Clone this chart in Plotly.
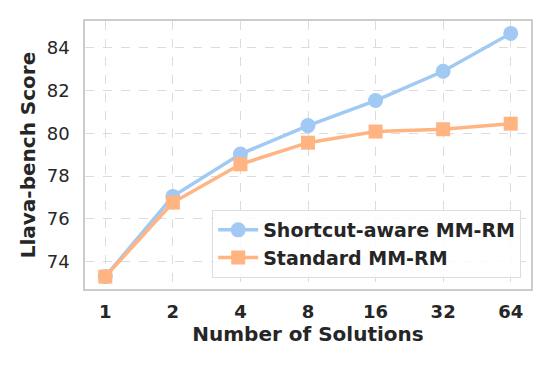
import plotly.graph_objects as go

n_solutions = ["1", "2", "4", "8", "16", "32", "64"]
shortcut_aware = [73.3, 77.05, 79.03, 80.36, 81.53, 82.9, 84.67]
standard = [73.3, 76.76, 78.55, 79.56, 80.08, 80.19, 80.45]
y_ticks = [74, 76, 78, 80, 82, 84]

BLUE = "#a1c9f4"
ORANGE = "#ffb482"
FONT = "DejaVu Sans"
TEXT = "#262626"

fig = go.Figure()
fig.add_trace(go.Scatter(
    x=n_solutions, y=shortcut_aware, name="<b>Shortcut-aware MM-RM</b>",
    mode="lines+markers",
    line=dict(color=BLUE, width=3.5),
    marker=dict(symbol="circle", size=15, color=BLUE),
))
fig.add_trace(go.Scatter(
    x=n_solutions, y=standard, name="<b>Standard MM-RM</b>",
    mode="lines+markers",
    line=dict(color=ORANGE, width=3.5),
    marker=dict(symbol="square", size=14, color=ORANGE),
))

axis_common = dict(
    showgrid=True, gridcolor="#dcdcdc", griddash="dash", gridwidth=1,
    showline=True, mirror=True, linecolor="#cccccc", linewidth=1.5,
    ticks="", zeroline=False,
    tickfont=dict(family=FONT, size=18, color=TEXT),
    tickprefix="<b>", ticksuffix="</b>",
)
fig.update_xaxes(
    type="category", range=[-0.3, 6.3], ticklabelstandoff=6,
    title=dict(text="<b>Number of Solutions</b>", font=dict(family=FONT, size=20, color=TEXT), standoff=6),
    **axis_common,
)
fig.update_yaxes(
    range=[72.72, 85.25], tickvals=y_ticks, ticklabelstandoff=10,
    title=dict(text="<b>Llava-bench Score</b>", font=dict(family=FONT, size=20, color=TEXT), standoff=6),
    **axis_common,
)
fig.update_layout(
    width=552, height=368,
    paper_bgcolor="white", plot_bgcolor="white",
    margin=dict(l=85, r=21, t=21, b=79),
    font=dict(family=FONT, color=TEXT),
    legend=dict(
        x=0.978, y=0.041, xanchor="right", yanchor="bottom",
        bgcolor="rgba(255,255,255,0.85)", bordercolor="#dddddd", borderwidth=1,
        font=dict(family=FONT, size=19, color=TEXT),
        itemwidth=40,
    ),
)
fig.write_html("out.html", config={"displayModeBar": False},
               post_script="document.body.style.margin='0';")
